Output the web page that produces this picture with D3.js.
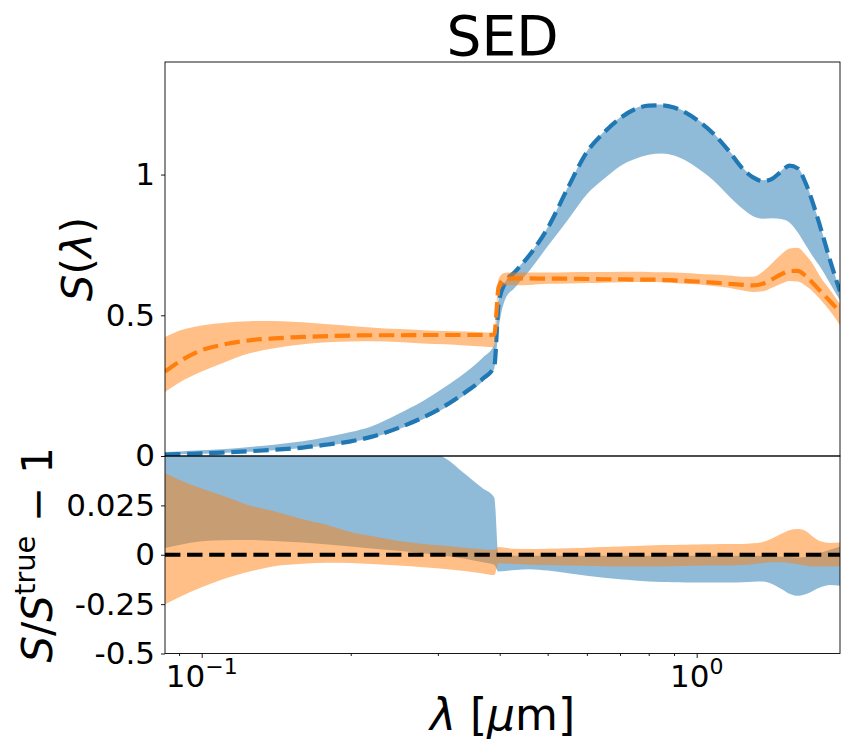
<!DOCTYPE html>
<html>
<head>
<meta charset="utf-8">
<script src="https://cdn.jsdelivr.net/npm/d3@7"></script>
<style>
  body { margin: 0; background: #fff; }
  svg text { font-family: "DejaVu Sans", sans-serif; fill: #000; }
</style>
</head>
<body>
<svg id="chart" width="841" height="746"></svg>
<script>
// Wavelength grid in micrometres
const wavelength = [0.0843, 0.09, 0.10, 0.11, 0.125, 0.14, 0.16, 0.18, 0.20, 0.22, 0.25, 0.28, 0.31, 0.34, 0.37, 0.39,
  0.398, 0.41, 0.43, 0.46, 0.50, 0.55, 0.60, 0.65, 0.70, 0.75, 0.80, 0.85, 0.90, 0.95, 1.00, 1.08, 1.16, 1.24, 1.30,
  1.36, 1.42, 1.48, 1.54, 1.60, 1.66, 1.72, 1.78, 1.86, 1.948];

// Blue SED: true curve and posterior band
const blueTrue = [0.005, 0.007, 0.009, 0.012, 0.017, 0.022, 0.030, 0.041, 0.052, 0.068, 0.100, 0.137, 0.178, 0.225, 0.275, 0.318,
  0.540, 0.615, 0.655, 0.715, 0.810, 0.955, 1.080, 1.150, 1.200, 1.232, 1.245, 1.246, 1.238, 1.220, 1.195, 1.146, 1.085, 1.020, 0.990,
  0.977, 0.985, 1.010, 1.032, 1.022, 0.970, 0.895, 0.810, 0.695, 0.585];
const blueHigh = [0.014, 0.016, 0.020, 0.024, 0.032, 0.040, 0.052, 0.068, 0.085, 0.105, 0.150, 0.195, 0.245, 0.295, 0.350, 0.395,
  0.560, 0.618, 0.658, 0.718, 0.813, 0.958, 1.083, 1.153, 1.203, 1.235, 1.248, 1.249, 1.241, 1.223, 1.198, 1.149, 1.088, 1.023, 0.993,
  0.980, 0.988, 1.013, 1.035, 1.025, 0.973, 0.898, 0.813, 0.698, 0.588];
const blueLow = [0.004, 0.006, 0.008, 0.011, 0.015, 0.020, 0.028, 0.038, 0.049, 0.064, 0.095, 0.131, 0.171, 0.217, 0.266, 0.310,
  0.450, 0.555, 0.600, 0.660, 0.745, 0.840, 0.930, 0.985, 1.030, 1.055, 1.070, 1.075, 1.068, 1.050, 1.025, 0.980, 0.925, 0.878, 0.852,
  0.843, 0.845, 0.842, 0.830, 0.795, 0.750, 0.707, 0.670, 0.613, 0.553];

// Orange SED: true curve and posterior band
const orangeTrue = [0.300, 0.335, 0.376, 0.395, 0.411, 0.418, 0.423, 0.426, 0.428, 0.429, 0.429, 0.430, 0.430, 0.430, 0.430, 0.431,
  0.600, 0.630, 0.631, 0.631, 0.630, 0.630, 0.629, 0.628, 0.628, 0.627, 0.627, 0.626, 0.624, 0.622, 0.620, 0.616, 0.612, 0.608, 0.606,
  0.612, 0.628, 0.645, 0.657, 0.658, 0.640, 0.613, 0.585, 0.550, 0.512];
const orangeHigh = [0.423, 0.445, 0.464, 0.473, 0.479, 0.480, 0.475, 0.468, 0.462, 0.457, 0.451, 0.447, 0.444, 0.442, 0.440, 0.437,
  0.630, 0.651, 0.652, 0.652, 0.652, 0.653, 0.654, 0.654, 0.655, 0.655, 0.654, 0.653, 0.652, 0.650, 0.648, 0.645, 0.641, 0.637, 0.637,
  0.655, 0.685, 0.715, 0.737, 0.740, 0.715, 0.680, 0.635, 0.590, 0.540];
const orangeLow = [0.227, 0.260, 0.300, 0.330, 0.365, 0.383, 0.397, 0.404, 0.407, 0.408, 0.405, 0.400, 0.397, 0.393, 0.389, 0.386,
  0.580, 0.607, 0.607, 0.608, 0.612, 0.613, 0.615, 0.616, 0.617, 0.618, 0.618, 0.617, 0.615, 0.612, 0.610, 0.604, 0.598, 0.588, 0.583,
  0.585, 0.598, 0.612, 0.622, 0.620, 0.605, 0.583, 0.555, 0.515, 0.465];

// Fractional residual bands S/S_true - 1
const blueResHigh = [0.90, 0.88, 0.85, 0.82, 0.78, 0.74, 0.70, 0.66, 0.63, 0.60, 0.56, 0.53, 0.49, 0.41, 0.335, 0.29,
  -0.003, -0.004, -0.005, -0.005, -0.005, -0.005, -0.005, -0.005, -0.005, -0.005, -0.005, -0.005, -0.005, -0.005, -0.005, -0.005,
  -0.005, -0.005, -0.005, -0.006, -0.008, -0.010, -0.012, -0.014, -0.012, -0.005, 0.010, 0.025, 0.042];
const blueResLow = [0.034, 0.050, 0.068, 0.074, 0.075, 0.070, 0.062, 0.052, 0.042, 0.032, 0.020, 0.008, -0.005, -0.020, -0.038, -0.050,
  -0.085, -0.082, -0.077, -0.073, -0.080, -0.094, -0.106, -0.116, -0.124, -0.130, -0.135, -0.138, -0.139, -0.140, -0.140, -0.140,
  -0.140, -0.139, -0.137, -0.136, -0.148, -0.172, -0.197, -0.208, -0.200, -0.182, -0.165, -0.153, -0.157];
const orangeResHigh = [0.414, 0.380, 0.335, 0.300, 0.250, 0.220, 0.180, 0.150, 0.115, 0.095, 0.070, 0.055, 0.045, 0.035, 0.028, 0.025,
  0.039, 0.035, 0.030, 0.029, 0.030, 0.033, 0.036, 0.039, 0.042, 0.044, 0.047, 0.049, 0.050, 0.051, 0.052, 0.053, 0.054, 0.055, 0.058,
  0.065, 0.082, 0.105, 0.124, 0.130, 0.120, 0.090, 0.068, 0.060, 0.062];
const orangeResLow = [-0.250, -0.215, -0.165, -0.125, -0.085, -0.058, -0.045, -0.040, -0.042, -0.047, -0.055, -0.063, -0.072, -0.082, -0.095, -0.103,
  -0.042, -0.044, -0.047, -0.050, -0.052, -0.054, -0.056, -0.058, -0.059, -0.059, -0.059, -0.059, -0.058, -0.057, -0.056, -0.055,
  -0.054, -0.052, -0.048, -0.042, -0.038, -0.038, -0.042, -0.048, -0.055, -0.060, -0.060, -0.059, -0.058];

// Axis ticks
const xMajorTicks = [0.1, 1];
const xMajorExponents = ["\u22121", "0"];
const xMinorTicks = [0.09, 0.2, 0.3, 0.4, 0.5, 0.6, 0.7, 0.8, 0.9];
const sedTicks = [0, 0.5, 1];
const sedTickLabels = ["0", "0.5", "1"];
const resTicks = [0.25, 0, -0.25, -0.5];
const resTickLabels = ["0.025", "0", "-0.25", "-0.5"];

const BLUE = "#1f77b4", ORANGE = "#ff7f0e";
const svg = d3.select("#chart");

const L = 165, R = 840, T = 62, MID = 456, B = 653.5;
const x = d3.scaleLog().domain([0.0843, 1.948]).range([L, R]);
const ySed = d3.scaleLinear().domain([0, 1.4]).range([MID, T]);
const yRes = d3.scaleLinear().domain([-0.5, 0.5]).range([B, MID]);

const defs = svg.append("defs");
defs.append("clipPath").attr("id", "clipTop").append("rect")
  .attr("x", L).attr("y", T).attr("width", R - L).attr("height", MID - T);
defs.append("clipPath").attr("id", "clipRes").append("rect")
  .attr("x", L).attr("y", MID).attr("width", R - L).attr("height", B - MID);

function band(y, lo, hi) {
  return d3.area()
    .x((d, i) => x(wavelength[i]))
    .y0((d, i) => y(lo[i]))
    .y1((d, i) => y(hi[i]))
    .curve(d3.curveMonotoneX)(wavelength);
}
function line(y, vals) {
  return d3.line()
    .x((d, i) => x(wavelength[i]))
    .y((d, i) => y(vals[i]))
    .curve(d3.curveMonotoneX)(wavelength);
}
const dash = "15.4,6.7";

// Upper panel: SEDs
const sedPanel = svg.append("g").attr("clip-path", "url(#clipTop)");
sedPanel.append("path").attr("d", band(ySed, blueLow, blueHigh)).attr("fill", BLUE).attr("fill-opacity", 0.5);
sedPanel.append("path").attr("d", line(ySed, blueTrue)).attr("fill", "none").attr("stroke", BLUE)
  .attr("stroke-width", 4.2).attr("stroke-dasharray", dash);
sedPanel.append("path").attr("d", band(ySed, orangeLow, orangeHigh)).attr("fill", ORANGE).attr("fill-opacity", 0.5);
sedPanel.append("path").attr("d", line(ySed, orangeTrue)).attr("fill", "none").attr("stroke", ORANGE)
  .attr("stroke-width", 4.2).attr("stroke-dasharray", dash);

// Lower panel: fractional residuals
const resPanel = svg.append("g").attr("clip-path", "url(#clipRes)");
resPanel.append("path").attr("d", band(yRes, blueResLow, blueResHigh)).attr("fill", BLUE).attr("fill-opacity", 0.5);
resPanel.append("path").attr("d", band(yRes, orangeResLow, orangeResHigh)).attr("fill", ORANGE).attr("fill-opacity", 0.5);
resPanel.append("line").attr("x1", L).attr("x2", R).attr("y1", yRes(0)).attr("y2", yRes(0))
  .attr("stroke", "#000").attr("stroke-width", 4.2).attr("stroke-dasharray", dash);

// Axes
const tickFont = 31;
function styleAxis(g) {
  g.select(".domain").remove();
  g.selectAll(".tick line").attr("stroke", "#000").attr("stroke-width", 0.9);
  g.selectAll(".tick text").attr("font-size", tickFont).attr("font-family", "DejaVu Sans").attr("fill", "#000");
}
svg.append("g").attr("transform", `translate(${L},0)`)
  .call(d3.axisLeft(ySed).tickValues(sedTicks).tickFormat((d, i) => sedTickLabels[i]).tickSize(4).tickPadding(6))
  .call(styleAxis);
svg.append("g").attr("transform", `translate(${L},0)`)
  .call(d3.axisLeft(yRes).tickValues(resTicks).tickFormat((d, i) => resTickLabels[i]).tickSize(4).tickPadding(6))
  .call(styleAxis);

svg.append("g").attr("transform", `translate(0,${B})`)
  .call(d3.axisBottom(x).tickValues(xMinorTicks).tickFormat("").tickSize(2.5))
  .call(styleAxis);
svg.append("g").attr("transform", `translate(0,${B})`)
  .call(d3.axisBottom(x).tickValues(xMajorTicks).tickFormat("").tickSize(4.5))
  .call(styleAxis);
xMajorTicks.forEach((v, i) => {
  const t = svg.append("text").attr("x", x(v)).attr("y", 686.5).attr("text-anchor", "middle")
    .attr("font-size", tickFont);
  t.append("tspan").text("10");
  t.append("tspan").attr("font-size", 22).attr("dy", -13).text(xMajorExponents[i]);
});

// Panel frames
[[T, MID], [MID, B]].forEach(([y0, y1]) => {
  svg.append("rect").attr("x", L).attr("y", y0).attr("width", R - L).attr("height", y1 - y0)
    .attr("fill", "none").attr("stroke", "#000").attr("stroke-width", 0.9);
});

// Titles and axis labels
svg.append("text").attr("x", (L + R) / 2).attr("y", 55).attr("text-anchor", "middle")
  .attr("font-size", 55).text("SED");

const yl = svg.append("text").attr("transform", `translate(92,${(T + MID) / 2}) rotate(-90)`)
  .attr("text-anchor", "middle").attr("font-size", 42);
yl.append("tspan").attr("font-style", "italic").text("S");
yl.append("tspan").text("(");
yl.append("tspan").attr("font-style", "italic").text("λ");
yl.append("tspan").text(")");

const rl = svg.append("text").attr("transform", `translate(52,${(MID + B) / 2}) rotate(-90)`)
  .attr("text-anchor", "middle").attr("font-size", 42);
rl.append("tspan").attr("font-style", "italic").text("S");
rl.append("tspan").text("/");
rl.append("tspan").attr("font-style", "italic").text("S");
rl.append("tspan").attr("font-size", 29).attr("dy", -17).text("true");
rl.append("tspan").attr("dy", 17).text(" \u2212 1");

const xl = svg.append("text").attr("x", (L + R) / 2).attr("y", 730).attr("text-anchor", "middle")
  .attr("font-size", 44);
xl.append("tspan").attr("font-style", "italic").text("λ");
xl.append("tspan").text(" [");
xl.append("tspan").attr("font-style", "italic").text("μ");
xl.append("tspan").text("m]");
</script>
</body>
</html>
